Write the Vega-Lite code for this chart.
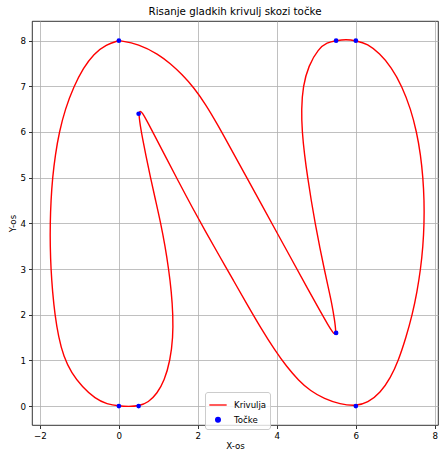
{
  "$schema": "https://vega.github.io/schema/vega-lite/v6.json",
  "width": 406,
  "height": 404,
  "autosize": "none",
  "padding": {"left": 32, "top": 21, "right": 1, "bottom": 25},
  "background": "white",
  "title": {"text": "Risanje gladkih krivulj skozi točke", "font": "DejaVu Sans", "fontSize": 10.3, "fontWeight": "normal", "color": "black", "offset": 4, "frame": "group"},
  "config": {
    "view": {"stroke": "black", "strokeWidth": 0.8},
    "axis": {"grid": true, "gridColor": "#b0b0b0", "gridWidth": 0.8, "domain": false, "tickColor": "black", "tickSize": 3.5, "tickWidth": 0.8, "labelFont": "DejaVu Sans", "labelFontSize": 8.7, "labelColor": "black", "labelPadding": 3, "titleFont": "DejaVu Sans", "titleFontSize": 8.7, "titleFontWeight": "normal", "titleColor": "black"},
    "legend": {"labelFont": "DejaVu Sans", "labelFontSize": 8.6, "labelColor": "black", "symbolStrokeWidth": 1.3, "padding": 3.5, "rowPadding": 4, "labelOffset": 6.5, "strokeColor": "#cccccc", "fillColor": "rgba(255,255,255,0.8)", "cornerRadius": 2.5, "symbolOpacity": 1}
  },
  "datasets": {
    "curve": [
      {"t": 1, "x": 0, "y": 8}, {"t": 2, "x": 0.5, "y": 7.93}, {"t": 3, "x": 1.0, "y": 7.7}, {"t": 4, "x": 1.3, "y": 7.5}, {"t": 5, "x": 1.6, "y": 7.26}, {"t": 6, "x": 1.9, "y": 6.97}, {"t": 7, "x": 2.2, "y": 6.6}, {"t": 8, "x": 2.5, "y": 6.16}, {"t": 9, "x": 2.8, "y": 5.69}, {"t": 10, "x": 3.2, "y": 5.06}, {"t": 11, "x": 3.6, "y": 4.43}, {"t": 12, "x": 4.0, "y": 3.8}, {"t": 13, "x": 4.4, "y": 3.17}, {"t": 14, "x": 4.8, "y": 2.54}, {"t": 15, "x": 5.1, "y": 2.07}, {"t": 16, "x": 5.3, "y": 1.77}, {"t": 17, "x": 5.41, "y": 1.62}, {"t": 18, "x": 5.47, "y": 1.565}, {"t": 19, "x": 5.5, "y": 1.6},
      {"t": 20, "x": 5.46, "y": 1.9}, {"t": 21, "x": 5.39, "y": 2.25}, {"t": 22, "x": 5.3, "y": 2.6}, {"t": 23, "x": 5.2, "y": 3.0}, {"t": 24, "x": 5.08, "y": 3.5}, {"t": 25, "x": 4.97, "y": 4.0}, {"t": 26, "x": 4.87, "y": 4.5}, {"t": 27, "x": 4.78, "y": 5.0}, {"t": 28, "x": 4.7, "y": 5.5}, {"t": 29, "x": 4.64, "y": 6.0}, {"t": 30, "x": 4.62, "y": 6.5}, {"t": 31, "x": 4.66, "y": 7.0}, {"t": 32, "x": 4.8, "y": 7.45}, {"t": 33, "x": 5.05, "y": 7.82}, {"t": 34, "x": 5.27, "y": 7.96}, {"t": 35, "x": 5.5, "y": 8.0},
      {"t": 36, "x": 5.75, "y": 8.03}, {"t": 37, "x": 6.0, "y": 8.0},
      {"t": 38, "x": 6.3, "y": 7.93}, {"t": 39, "x": 6.6, "y": 7.72}, {"t": 40, "x": 6.9, "y": 7.42}, {"t": 41, "x": 7.17, "y": 7.0}, {"t": 42, "x": 7.39, "y": 6.5}, {"t": 43, "x": 7.54, "y": 6.0}, {"t": 44, "x": 7.64, "y": 5.5}, {"t": 45, "x": 7.7, "y": 5.0}, {"t": 46, "x": 7.73, "y": 4.5}, {"t": 47, "x": 7.73, "y": 4.0}, {"t": 48, "x": 7.7, "y": 3.5}, {"t": 49, "x": 7.64, "y": 3.0}, {"t": 50, "x": 7.55, "y": 2.5}, {"t": 51, "x": 7.43, "y": 2.0}, {"t": 52, "x": 7.27, "y": 1.5}, {"t": 53, "x": 7.08, "y": 1.0}, {"t": 54, "x": 6.88, "y": 0.62}, {"t": 55, "x": 6.62, "y": 0.29}, {"t": 56, "x": 6.3, "y": 0.07}, {"t": 57, "x": 6.0, "y": 0.0},
      {"t": 58, "x": 5.6, "y": 0.04}, {"t": 59, "x": 5.2, "y": 0.16}, {"t": 60, "x": 4.85, "y": 0.33}, {"t": 61, "x": 4.55, "y": 0.56}, {"t": 62, "x": 4.25, "y": 0.86}, {"t": 63, "x": 3.95, "y": 1.22}, {"t": 64, "x": 3.6, "y": 1.7}, {"t": 65, "x": 3.25, "y": 2.22}, {"t": 66, "x": 2.9, "y": 2.75}, {"t": 67, "x": 2.55, "y": 3.28}, {"t": 68, "x": 2.2, "y": 3.81}, {"t": 69, "x": 1.85, "y": 4.36}, {"t": 70, "x": 1.5, "y": 4.93}, {"t": 71, "x": 1.17, "y": 5.48}, {"t": 72, "x": 0.87, "y": 5.98}, {"t": 73, "x": 0.7, "y": 6.26}, {"t": 74, "x": 0.6, "y": 6.41}, {"t": 75, "x": 0.54, "y": 6.47}, {"t": 76, "x": 0.5, "y": 6.4},
      {"t": 77, "x": 0.54, "y": 6.15}, {"t": 78, "x": 0.6, "y": 5.85}, {"t": 79, "x": 0.68, "y": 5.5}, {"t": 80, "x": 0.8, "y": 5.0}, {"t": 81, "x": 0.93, "y": 4.5}, {"t": 82, "x": 1.06, "y": 4.0}, {"t": 83, "x": 1.17, "y": 3.5}, {"t": 84, "x": 1.26, "y": 3.0}, {"t": 85, "x": 1.33, "y": 2.5}, {"t": 86, "x": 1.37, "y": 2.0}, {"t": 87, "x": 1.37, "y": 1.5}, {"t": 88, "x": 1.3, "y": 1.0}, {"t": 89, "x": 1.15, "y": 0.55}, {"t": 90, "x": 0.97, "y": 0.28}, {"t": 91, "x": 0.75, "y": 0.08}, {"t": 92, "x": 0.5, "y": 0.0},
      {"t": 93, "x": 0.25, "y": -0.01}, {"t": 94, "x": 0.0, "y": 0.0},
      {"t": 95, "x": -0.3, "y": 0.04}, {"t": 96, "x": -0.6, "y": 0.16}, {"t": 97, "x": -0.93, "y": 0.42}, {"t": 98, "x": -1.2, "y": 0.72}, {"t": 99, "x": -1.4, "y": 1.08}, {"t": 100, "x": -1.53, "y": 1.52}, {"t": 101, "x": -1.62, "y": 2.0}, {"t": 102, "x": -1.68, "y": 2.5}, {"t": 103, "x": -1.72, "y": 3.0}, {"t": 104, "x": -1.74, "y": 3.5}, {"t": 105, "x": -1.74, "y": 4.0}, {"t": 106, "x": -1.72, "y": 4.5}, {"t": 107, "x": -1.68, "y": 5.0}, {"t": 108, "x": -1.61, "y": 5.5}, {"t": 109, "x": -1.51, "y": 6.0}, {"t": 110, "x": -1.36, "y": 6.5}, {"t": 111, "x": -1.14, "y": 7.0}, {"t": 112, "x": -0.9, "y": 7.4}, {"t": 113, "x": -0.64, "y": 7.71}, {"t": 114, "x": -0.32, "y": 7.92}, {"t": 115, "x": 0.0, "y": 8.0}
    ],
    "pts": [
      {"x": 0, "y": 0}, {"x": 0.5, "y": 0}, {"x": 0.5, "y": 6.4}, {"x": 5.5, "y": 1.6}, {"x": 5.5, "y": 8}, {"x": 6, "y": 8}, {"x": 6, "y": 0}, {"x": 0, "y": 8}
    ]
  },
  "encoding": {
    "x": {"field": "x", "type": "quantitative", "scale": {"domain": [-2.2, 8.08], "nice": false, "zero": false}, "axis": {"values": [-2, 0, 2, 4, 6, 8], "title": "X-os", "titlePadding": 1, "labelExpr": "replace(datum.label, '-', '−')"}},
    "y": {"field": "y", "type": "quantitative", "scale": {"domain": [-0.415, 8.43], "nice": false, "zero": false}, "axis": {"values": [0, 1, 2, 3, 4, 5, 6, 7, 8], "title": "Y-os", "titlePadding": 2}}
  },
  "layer": [
    {
      "data": {"name": "curve"},
      "mark": {"type": "line", "interpolate": "basis", "strokeWidth": 1.4},
      "encoding": {
        "order": {"field": "t", "type": "quantitative"},
        "stroke": {"datum": "Krivulja", "type": "nominal", "scale": {"domain": ["Krivulja", "Točke"], "range": ["#ff0000", "#0000ff"]}, "legend": {"title": null, "orient": "none", "legendX": 173, "legendY": 371}}
      }
    },
    {
      "data": {"name": "pts"},
      "mark": {"type": "point", "filled": true, "opacity": 1, "strokeWidth": 0.5},
      "encoding": {
        "fill": {"datum": "Točke", "type": "nominal", "scale": {"domain": ["Krivulja", "Točke"], "range": ["transparent", "#0000ff"]}, "legend": {"title": null, "orient": "none", "legendX": 173, "legendY": 371}},
        "shape": {"datum": "Točke", "type": "nominal", "scale": {"domain": ["Krivulja", "Točke"], "range": ["stroke", "circle"]}, "legend": {"title": null, "orient": "none", "legendX": 173, "legendY": 371}},
        "size": {"datum": "Točke", "type": "nominal", "scale": {"domain": ["Krivulja", "Točke"], "range": [300, 22]}, "legend": {"title": null, "orient": "none", "legendX": 173, "legendY": 371}}
      }
    }
  ]
}
